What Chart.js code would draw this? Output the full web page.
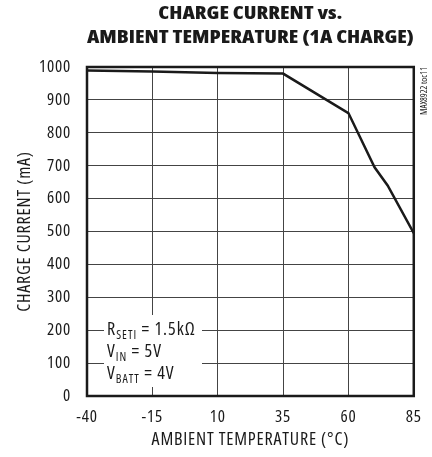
<!DOCTYPE html>
<html>
<head>
<meta charset="utf-8">
<script src="https://cdn.jsdelivr.net/npm/chart.js@4.4.0/dist/chart.umd.min.js"></script>
<style>
  html, body { margin: 0; padding: 0; background: #fff; }
  #wrap { width: 432px; height: 457px; }
</style>
</head>
<body>
<div id="wrap"><canvas id="chart" width="432" height="457"></canvas></div>
<script>
const temps = [-40, -15, 10, 35, 60, 70, 75, 85];
const current = [989, 986, 982, 980, 860, 695, 640, 495];
const xTicks = [-40, -15, 10, 35, 60, 85];
const yTicks = [0, 100, 200, 300, 400, 500, 600, 700, 800, 900, 1000];

// Open Sans comes with a condensed face; a little letter spacing widens it
const family = '"Open Sans", sans-serif';
const narrow = 'condensed';
const ink = '#1a1a1a';

const frame = {
  id: 'frame',
  beforeDraw(chart) {
    chart.ctx.letterSpacing = '0.8px';
  },
  beforeDatasetsDraw(chart) {
    // white box for the conditions note, hides the grid behind it
    const ctx = chart.ctx;
    ctx.save();
    ctx.fillStyle = '#fff';
    ctx.fillRect(104, 315, 98, 72);
    ctx.restore();
  },
  afterDraw(chart) {
    const ctx = chart.ctx;
    const a = chart.chartArea;
    ctx.save();
    ctx.strokeStyle = ink;
    ctx.lineWidth = 2.5;
    ctx.strokeRect(a.left, a.top, a.right - a.left, a.bottom - a.top);

    // title, stretched to the width of the plot
    ctx.fillStyle = ink;
    ctx.letterSpacing = '0px';
    ctx.textAlign = 'center';
    ctx.textBaseline = 'middle';
    ctx.font = '800 ' + narrow + ' 18px ' + family;
    const cx = (a.left + a.right) / 2;
    const line2 = 'AMBIENT TEMPERATURE (1A CHARGE)';
    const k = 327 / ctx.measureText(line2).width;
    ctx.save();
    ctx.translate(cx, 0);
    ctx.scale(k, 1);
    ctx.fillText('CHARGE CURRENT vs.', 0, 14);
    ctx.fillText(line2, 0, 37.5);
    ctx.restore();

    // conditions note
    ctx.letterSpacing = '1px';
    ctx.textAlign = 'left';
    ctx.textBaseline = 'alphabetic';
    const big = narrow + ' 18px ' + family;
    const small = narrow + ' 12px ' + family;
    const lines = [['R', 'SETI', ' = 1.5k\u03a9', 335], ['V', 'IN', ' = 5V', 357], ['V', 'BATT', ' = 4V', 379]];
    lines.forEach(([m, sub, rest, y]) => {
      let x = 107;
      ctx.font = big;
      ctx.fillText(m, x, y);
      x += ctx.measureText(m).width;
      ctx.font = small;
      ctx.fillText(sub, x, y + 4);
      x += ctx.measureText(sub).width;
      ctx.font = big;
      ctx.fillText(rest, x, y);
    });

    // figure tag on the right
    ctx.letterSpacing = '0px';
    ctx.translate(424, 67);
    ctx.rotate(-Math.PI / 2);
    ctx.font = narrow + ' 9px ' + family;
    ctx.textAlign = 'right';
    ctx.textBaseline = 'middle';
    ctx.fillText('MAX8922 toc11', 0, 0);
    ctx.restore();
  }
};

new Chart(document.getElementById('chart'), {
  type: 'line',
  data: {
    datasets: [{
      data: temps.map((t, i) => ({ x: t, y: current[i] })),
      borderColor: ink,
      borderWidth: 2.5,
      pointRadius: 0,
      tension: 0,
      fill: false
    }]
  },
  options: {
    responsive: false,
    animation: false,
    layout: { padding: { top: 67, right: 16, left: 0, bottom: 0 } },
    plugins: { legend: { display: false }, tooltip: { enabled: false } },
    scales: {
      x: {
        type: 'linear',
        min: -40, max: 85,
        afterBuildTicks(s) { s.ticks = xTicks.map(v => ({ value: v })); },
        afterFit(s) { s.height = 61; },
        grid: { color: '#444', lineWidth: 1, drawTicks: false },
        border: { display: false },
        ticks: {
          color: ink, padding: 11,
          font: { family: family, weight: narrow, size: 17 },
          callback: v => String(v)
        },
        title: {
          display: true, text: 'AMBIENT TEMPERATURE (\u00b0C)', color: ink,
          font: { family: family, weight: narrow, size: 18 }, padding: { top: 0, bottom: 6 }
        }
      },
      y: {
        min: 0, max: 1000,
        afterBuildTicks(s) { s.ticks = yTicks.map(v => ({ value: v })); },
        afterFit(s) { s.width = 87; },
        grid: { color: '#444', lineWidth: 1, drawTicks: false },
        border: { display: false },
        ticks: {
          color: ink, padding: 16,
          font: { family: family, weight: narrow, size: 17 },
          callback: v => String(v)
        },
        title: {
          display: true, text: 'CHARGE CURRENT (mA)', color: ink,
          font: { family: family, weight: narrow, size: 18 }, padding: { top: 14, bottom: 0 }
        }
      }
    }
  },
  plugins: [frame]
});
</script>
</body>
</html>
